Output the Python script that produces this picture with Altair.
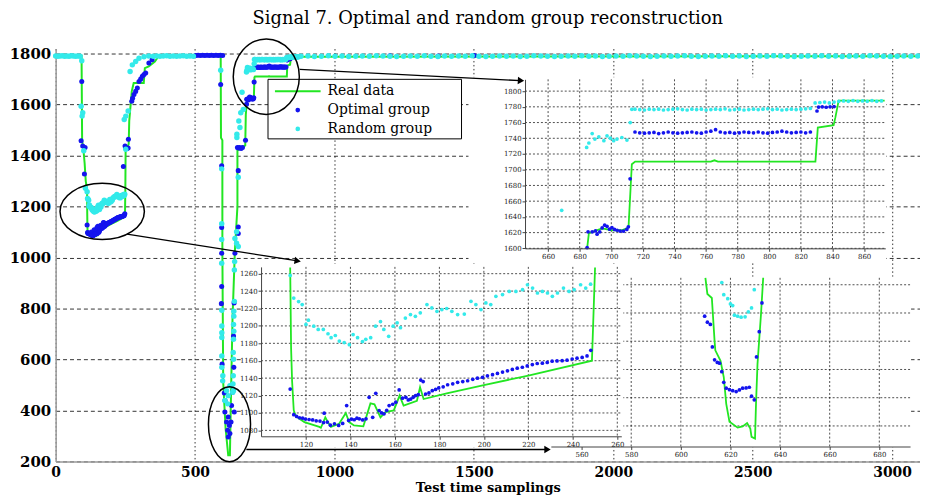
import altair as alt
import pandas as pd

# ---------------- text ----------------
TITLE = "Signal 7. Optimal and random group reconstruction"
X_TITLE = "Test time samplings"
LEGEND_LABELS = ["Real data", "Optimal group", "Random group"]

# ---------------- tick values ----------------
MAIN_X_TICKS = [0, 500, 1000, 1500, 2000, 2500, 3000]
MAIN_Y_TICKS = [200, 400, 600, 800, 1000, 1200, 1400, 1600, 1800]
A_X_TICKS = [660, 680, 700, 720, 740, 760, 780, 800, 820, 840, 860]
A_Y_TICKS = [1600, 1620, 1640, 1660, 1680, 1700, 1720, 1740, 1760, 1780, 1800]
B_X_TICKS = [120, 140, 160, 180, 200, 220, 240, 260]
B_Y_TICKS = [1080, 1100, 1120, 1140, 1160, 1180, 1200, 1220, 1240, 1260]
C_X_TICKS = [560, 580, 600, 620, 640, 660, 680]
C_Y_TICKS = [250, 300, 350, 400, 450, 500]

# ---------------- Real data (green line), (sample, value) ----------------
REAL_FIRST_DIP = [(0, 1792), (93, 1792), (95, 1460), (100, 1420), (104, 1370), (108, 1300),
                  (112.9, 1267), (113.3, 1175), (113.75, 1137), (114.5, 1103), (115.5, 1096),
                  (119.3, 1089.5), (126, 1084), (126.7, 1083), (128.7, 1095), (130.1, 1088.4),
                  (131.2, 1084), (134.9, 1087.6), (137.9, 1100), (139.4, 1089.5), (141.6, 1085.7),
                  (145.8, 1084.6), (149, 1111), (150.8, 1110), (153.5, 1095), (155.7, 1101),
                  (159.5, 1103), (162.1, 1120), (163.9, 1108.5), (169.9, 1114), (171.3, 1129.5),
                  (172.9, 1116), (183.3, 1122.6), (200, 1132), (220, 1143), (248.6, 1160), (250, 1267)]
REAL_RECOVERY = [(251, 1419), (262, 1445), (264, 1536), (269, 1600), (273, 1652), (280, 1685),
                 (316, 1685), (320, 1743), (334, 1750), (356, 1769), (364, 1782), (370, 1792), (592, 1792)]
REAL_DEEP_DIP = [(593, 1470), (598, 1460), (598, 1029), (601, 511), (609.6, 328), (619, 224),
                 (625, 224), (628.7, 445), (634.6, 770), (643, 1029), (652, 1200), (652, 1420),
                 (680, 1440), (682, 1560)]
REAL_STEPS = [(684.7, 1600), (685.8, 1619), (687.9, 1621), (694.2, 1625.3), (700.4, 1623),
              (706.7, 1623), (710.9, 1626.5), (713, 1707), (715.1, 1710.3), (763, 1710.3),
              (765.3, 1712), (767.5, 1710.3), (829.2, 1710.3), (830.7, 1753.6), (840.7, 1756.6),
              (841.8, 1766.2), (843.9, 1788), (873, 1788), (3100, 1790)]

# ---------------- Optimal group (blue points) ----------------
OPT_FIRST_DESCENT = [(93.7, 1691), (91.4, 1458), (97.2, 1438), (105.6, 1432), (103.2, 1328)]
OPT_FIRST_BOTTOM = [(112.9, 1127.5), (114.5, 1098), (115.8, 1096), (117.1, 1094.5), (118.5, 1094),
                    (119.8, 1093), (121.4, 1092.5), (123, 1092), (124.6, 1091), (126.3, 1090.7),
                    (127.9, 1089), (128.2, 1099.8), (129.6, 1089.5), (131, 1086), (132.8, 1087.6),
                    (134.7, 1085.7), (136.5, 1088), (138.3, 1108.5), (139.2, 1091.4), (140.5, 1093),
                    (141.7, 1092.2), (142.9, 1094), (144, 1093.3), (145.5, 1092), (147, 1093.3),
                    (148.4, 1118), (150, 1095), (151.4, 1122.6), (152.9, 1102.8), (154, 1100),
                    (155.1, 1099), (156.3, 1103), (157.4, 1108.5), (159, 1110), (160.4, 1112.4),
                    (161.9, 1126.4), (163.4, 1117), (164.9, 1118), (166, 1115), (167.1, 1116),
                    (168.2, 1118), (169.3, 1120), (170.5, 1121), (171.6, 1137.8), (172.7, 1136),
                    (173.8, 1121.8), (175.3, 1123), (176.8, 1125.6), (178.3, 1127), (179.7, 1128.7),
                    (181.7, 1130), (183.7, 1132.4), (186, 1133.5), (188.2, 1135.2), (190.5, 1136),
                    (192.7, 1137), (195, 1138.6), (197.1, 1140), (199.4, 1141), (201.6, 1142.7),
                    (203.9, 1144), (206.1, 1145.4), (208.4, 1147), (210.6, 1148.4), (212.8, 1150),
                    (215, 1151.5), (217.3, 1152.5), (219.5, 1154), (221.8, 1155.6), (224, 1156.8),
                    (226.3, 1157.2), (228.5, 1158), (230.7, 1159.5), (232.9, 1159.8), (235.2, 1160.1),
                    (237.4, 1160.6), (239.7, 1162), (241.9, 1162.9), (244.2, 1163.8), (246.4, 1165.5),
                    (248.1, 1172)]
OPT_RECOVERY = [(243, 1357), (249, 1438), (252, 1430), (256, 1428), (260, 1430), (261, 1464),
                (273, 1613), (276, 1625), (281, 1640), (287, 1652), (293, 1665), (299, 1691),
                (305, 1700), (311, 1711), (317, 1718), (323, 1724), (334.5, 1763), (346, 1776)]
OPT_TOP = [(503, 1793), (511, 1794), (519, 1793), (527, 1794), (535, 1793), (543, 1794), (551, 1793),
           (559, 1794), (567, 1793), (575, 1794), (583, 1793), (591, 1794), (599, 1793),
           (1199, 1792), (1372, 1791), (1502, 1793)]
OPT_DEEP_DIP = [(592, 1679), (595.5, 1360), (595.5, 1118), (595.5, 1017), (595.5, 886.5), (594.4, 819),
                (597, 581.6), (605, 468.7), (607.4, 438.7), (607, 393.5), (619, 374), (613, 354.6),
                (623, 341), (617, 321.9), (625, 309), (619, 296), (629, 354.6), (631, 419),
                (640.6, 393.5), (634.6, 471.4), (643, 1017), (640, 822), (638, 692), (639, 569),
                (655, 1120), (655, 1094), (655, 1341), (652, 1432), (656, 1430), (660, 1432),
                (665, 1428), (670, 1432), (681, 1460)]
OPT_STEPS_LOW = [(684.7, 1601), (685.3, 1621), (687.9, 1621), (690, 1622.2), (691, 1618), (692.7, 1621),
                 (694.2, 1626), (695.8, 1629.4), (697.3, 1628), (698.9, 1624.4), (700.4, 1626.5),
                 (702, 1624), (703.7, 1623), (705.6, 1622), (707.7, 1622), (709.8, 1624),
                 (710.8, 1627.3), (711.9, 1688.4)]
OPT_BAND_X = [715, 718, 721, 724, 727, 730, 733, 736, 739, 742, 745, 748, 751, 754, 757, 760, 763,
              766, 769, 772, 775, 778, 781, 784, 787, 790, 793, 796, 799, 802, 805, 808, 811, 814,
              817, 820, 823, 826]
OPT_BAND_Y = [1748, 1747, 1746.5, 1747, 1747.5, 1746, 1747, 1748, 1747, 1746.5, 1747, 1747.5, 1748,
              1747, 1746.5, 1748, 1749, 1751, 1748, 1747, 1747.5, 1746.5, 1747, 1748, 1747.5, 1747,
              1748, 1747, 1746.5, 1747.5, 1748, 1749, 1748, 1747, 1747.5, 1748, 1747, 1748]
OPT_STEPS_HIGH = [(830.2, 1774.7), (831.2, 1779.7), (833.5, 1780), (836, 1779.5), (838.5, 1780),
                  (841, 1780.3)]

# ---------------- Random group (cyan points) ----------------
RAND_TOP_LEFT = [(0, 1791), (8, 1790), (16, 1791), (24, 1792), (32, 1790), (40, 1791), (48, 1790),
                 (56, 1792), (64, 1791), (72, 1790), (80, 1791), (88, 1790)]
RAND_FIRST_DESCENT = [(93.7, 1772), (91.4, 1594), (97.2, 1568), (95, 1555), (100.8, 1419), (106.8, 1272)]
RAND_FIRST_BOTTOM = [(112.9, 1258), (114.5, 1232), (116.7, 1228), (118.3, 1224.5), (120, 1201.7),
                     (121.1, 1206.6), (123.5, 1199.7), (125.5, 1196), (127.8, 1196), (129.9, 1191),
                     (131.3, 1186.5), (133.2, 1189), (135, 1182.6), (137.2, 1180.8), (139.5, 1178.5),
                     (141.2, 1190), (143.2, 1186.5), (145.4, 1182), (146.9, 1184.6), (149.1, 1186.5),
                     (151.3, 1199.7), (153.5, 1205), (155, 1196), (157.2, 1188), (159.2, 1199.7),
                     (161, 1203.6), (162.5, 1198), (164.7, 1209), (167, 1213), (169.2, 1211),
                     (171.4, 1215), (174.4, 1224.5), (176.6, 1220.7), (178.9, 1216.8), (181.1, 1218.8),
                     (183.3, 1220), (185.6, 1216.8), (188.2, 1213), (191.2, 1213.6), (194.2, 1228.2),
                     (196.4, 1224.5), (198.7, 1218.8), (200.9, 1226.4), (203.1, 1224.5), (205.4, 1234),
                     (208.4, 1236), (211.4, 1239.6), (214.4, 1239.6), (217.4, 1241.6), (219.6, 1247.3),
                     (221.9, 1243.5), (224.1, 1237.8), (226.3, 1239.6), (228.6, 1237.8), (230.8, 1234),
                     (233.1, 1237.8), (235.8, 1243.5), (238.3, 1239.6), (240.6, 1241.6), (243.5, 1247.3),
                     (245.8, 1243.5), (248, 1248)]
RAND_RECOVERY = [(246, 1542), (251.6, 1555), (260, 1575), (251.6, 1425), (267, 1730), (275, 1756),
                 (287, 1769), (299, 1782), (317, 1788), (334, 1791), (350, 1790)]
RAND_TOP_MID = [(362, 1791), (374, 1790), (386, 1791), (398, 1792), (410, 1790), (422, 1791),
                (434, 1790), (446, 1791), (458, 1792), (470, 1790), (482, 1791), (494, 1790)]
RAND_DEEP_DIP = [(592, 1735), (595.5, 1348), (595.5, 1133), (595.5, 1071), (595.5, 978), (596, 793),
                 (596, 731), (596, 705), (596, 686), (596, 614), (596, 569), (599.6, 536), (599, 516),
                 (613, 477.6), (619, 458), (607, 438.7), (625, 497), (617, 425.8), (642, 984),
                 (641, 951.5), (641, 828), (639, 789), (639, 770), (638, 737), (639, 711), (638, 679),
                 (637, 627), (638, 601), (637, 536), (636, 504), (638, 478), (635, 471), (649, 1101),
                 (643, 1075), (649, 1056), (655, 1043), (655, 1315), (650, 1471), (650, 1484),
                 (661, 1510), (657, 1536), (664, 1568), (673, 1581)]
RAND_STEPS_LOW = [(668.6, 1648.4), (684.4, 1728.4), (685.8, 1734), (687.9, 1746), (689.6, 1739),
                  (692.1, 1741.8), (695.3, 1737), (697.3, 1743.1), (699.4, 1740.2), (701.5, 1737),
                  (703.6, 1739), (706.7, 1741), (709.9, 1737.7), (712, 1760), (713, 1776.8)]
RAND_BAND_X = [715, 718, 721, 724, 727, 730, 733, 736, 739, 742, 745, 748, 751, 754, 757, 760, 763,
               766, 769, 772, 775, 778, 781, 784, 787, 790, 793, 796, 799, 802, 805, 808, 811, 814,
               817, 820, 823, 826]
RAND_BAND_Y = [1777, 1776.5, 1776, 1777, 1776.5, 1777, 1776, 1776.5, 1777, 1777.5, 1776.5, 1776, 1777,
               1776.5, 1777, 1776, 1776.5, 1777, 1776.5, 1777.5, 1776, 1776.5, 1777, 1776, 1776.5, 1777,
               1776.5, 1777, 1777.5, 1776.5, 1777, 1776, 1776.5, 1777, 1776.5, 1777, 1777.5, 1778]
RAND_STEPS_HIGH = [(829, 1785), (832, 1785.5), (835, 1786), (838, 1785), (841, 1786), (844, 1787),
                   (847, 1787.5), (850, 1787), (853, 1788), (856, 1787), (859, 1787.5), (862, 1787),
                   (865, 1788), (868, 1787), (871, 1787.5)]
RAND_TOP_RIGHT_X = [880, 905, 928, 953, 978, 1002, 1027, 1051, 1076, 1100, 1125, 1150, 1174, 1199,
                    1223, 1248, 1272, 1297, 1322, 1346, 1371, 1395, 1420, 1445, 1469, 1494, 1518,
                    1543, 1567, 1592, 1617, 1641, 1666, 1690, 1715, 1740, 1764, 1789, 1813, 1838,
                    1862, 1887, 1912, 1936, 1961, 1985, 2010, 2035, 2059, 2084, 2108, 2133, 2157,
                    2182, 2207, 2231, 2256, 2280, 2305, 2330, 2354, 2379, 2403, 2428, 2452, 2477,
                    2502, 2526, 2551, 2575, 2600, 2625, 2649, 2674, 2698, 2723, 2747, 2772, 2797,
                    2821, 2846, 2870, 2895, 2920, 2944, 2969, 2993, 3018, 3042, 3067, 3092]
RAND_TOP_RIGHT_Y = [1790, 1791, 1789, 1790, 1792, 1790, 1791, 1789, 1790, 1791, 1790, 1792, 1791, 1790,
                    1789, 1790, 1791, 1790, 1792, 1790, 1789, 1791, 1790, 1791, 1790, 1792, 1790, 1789,
                    1790, 1791, 1790, 1791, 1789, 1790, 1792, 1791, 1790, 1789, 1790, 1791, 1790, 1792,
                    1790, 1791, 1789, 1790, 1791, 1790, 1792, 1791, 1790, 1789, 1790, 1791, 1790, 1791,
                    1792, 1790, 1789, 1790, 1791, 1790, 1792, 1790, 1791, 1789, 1790, 1791, 1790, 1792,
                    1791, 1790, 1789, 1790, 1791, 1790, 1792, 1790, 1791, 1789, 1790, 1791, 1790, 1792,
                    1791, 1790, 1789, 1790, 1791, 1790, 1791]

# ---------------- inset C (its own zoom of the deep dip) ----------------
C_REAL = [(609.9, 512.3), (610.7, 483.7), (612.5, 476.6), (613.6, 400.4), (613.9, 384), (616, 365.2),
          (617.3, 336.6), (618.3, 289.2), (619.6, 257.6), (622.9, 247), (624.9, 249.3), (626.7, 255.3),
          (628, 245.3), (628.5, 230.7), (629.9, 227.7), (630.3, 289.2), (630.9, 359.5),
          (632.3, 447.3), (633.2, 512.3)]
C_OPT = [(609.6, 444.3), (610.7, 433.8), (611.9, 429.7), (612.7, 389.9), (613.6, 367), (614.7, 362.4),
         (615.6, 361.2), (616.5, 346), (617.3, 327.3), (618.3, 316.8), (619.6, 314.3), (620.9, 312.5),
         (622.3, 310.8), (623.6, 313.8), (624.9, 316.8), (626.3, 317.3), (627.6, 318.5),
         (628.5, 302.7), (629.6, 296.2), (630.5, 372.3), (631.6, 416.9), (632.7, 467.8)]
C_RAND = [(616.5, 504), (617.3, 482.4), (618.9, 475.4), (620, 466.1), (620.9, 463.1), (621.6, 446.1),
          (622.9, 444.3), (624.3, 442.6), (625.9, 443.3), (627.2, 452), (628.5, 459), (629.6, 491.2)]

# ---------------- styling / layout ----------------
FONT = "DejaVu Serif"
GREEN, BLUE, CYAN = "#22e622", "#1414ee", "#33eaea"
W, H = 871, 416
MAIN_XD, MAIN_YD = [0, 3100], [200, 1820]


def frame(pairs):
    return pd.DataFrame({"x": [p[0] for p in pairs], "y": [p[1] for p in pairs]})


real_df = frame(REAL_FIRST_DIP + REAL_RECOVERY + REAL_DEEP_DIP + REAL_STEPS)
real_df["i"] = range(len(real_df))
opt_df = frame(OPT_FIRST_DESCENT + OPT_FIRST_BOTTOM + OPT_RECOVERY + OPT_TOP + OPT_DEEP_DIP
               + OPT_STEPS_LOW + list(zip(OPT_BAND_X, OPT_BAND_Y)) + OPT_STEPS_HIGH)
rand_df = frame(RAND_TOP_LEFT + RAND_FIRST_DESCENT + RAND_FIRST_BOTTOM + RAND_RECOVERY + RAND_TOP_MID
                + RAND_DEEP_DIP + RAND_STEPS_LOW + list(zip(RAND_BAND_X, RAND_BAND_Y))
                + RAND_STEPS_HIGH + list(zip(RAND_TOP_RIGHT_X, RAND_TOP_RIGHT_Y)))
c_real = frame(C_REAL)
c_real["i"] = range(len(c_real))
c_opt, c_rand = frame(C_OPT), frame(C_RAND)
ONE = pd.DataFrame({"k": [0]})


def inside(df, xd, yd):
    return df[(df.x >= xd[0]) & (df.x <= xd[1]) & (df.y >= yd[0]) & (df.y <= yd[1])]


# ---------------- main panel ----------------
mxs = alt.Scale(domain=MAIN_XD, nice=False, zero=False)
mys = alt.Scale(domain=MAIN_YD, nice=False, zero=False)
main_common = dict(grid=True, gridColor="#000", gridWidth=0.8, gridOpacity=1, domainColor="#999",
                   domainWidth=1.5, ticks=False, labelFont=FONT, labelFontWeight="bold",
                   labelColor="#000", labelFlush=False, labelOverlap=False, format="d")
mxa = alt.Axis(orient="bottom", values=MAIN_X_TICKS, gridDash=[1.5, 2.5], labelPadding=4,
               labelFontSize=14, title=X_TITLE, titleFont=FONT, titleFontSize=13,
               titleFontWeight="bold", titleColor="#000", titlePadding=2, **main_common)
mya = alt.Axis(orient="left", values=MAIN_Y_TICKS, gridDash=[4, 3], labelPadding=5,
               labelFontSize=15, title="", **main_common)
MX = alt.X("x:Q", scale=mxs, axis=mxa)
MY = alt.Y("y:Q", scale=mys, axis=mya)

main_layer = alt.layer(
    alt.Chart(real_df).mark_line(color=GREEN, strokeWidth=2).encode(x=MX, y=MY, order="i:Q"),
    alt.Chart(opt_df).mark_point(filled=True, size=26, color=BLUE, opacity=1).encode(x=MX, y=MY),
    alt.Chart(rand_df).mark_point(filled=True, size=30, color=CYAN, opacity=1).encode(x=MX, y=MY),
)


# ---------------- inset panels ----------------
def panel(xd, yd, xr, yr, bg, xt, yt, real, opt, rand, show_y=True, psize=14):
    xs = alt.Scale(domain=xd, range=xr, nice=False, zero=False)
    ys = alt.Scale(domain=yd, range=yr, nice=False, zero=False)
    common = dict(zindex=1, grid=False, domainColor="#444", domainWidth=1, tickColor="#444",
                  tickSize=3, labelFont=FONT, labelFontSize=7, labelColor="#222", labelFlush=False,
                  labelOverlap=False, format="d", title="", labelPadding=1)
    xa = alt.Axis(orient="bottom", offset=-(H - yr[0]), values=xt, **common)
    ya = alt.Axis(orient="left", offset=-xr[0], values=yt, **common) if show_y else None
    X = alt.X("x:Q", scale=xs, axis=xa)
    Y = alt.Y("y:Q", scale=ys, axis=ya)
    grid_style = dict(color="#000", strokeWidth=0.7, strokeDash=[2, 2])
    return alt.layer(
        alt.Chart(ONE).mark_rect(fill="white").encode(
            x=alt.value(bg[0]), x2=alt.value(bg[1]), y=alt.value(bg[2]), y2=alt.value(bg[3])),
        alt.Chart(pd.DataFrame({"x": xt})).mark_rule(**grid_style).encode(
            x=X, y=alt.value(yr[1]), y2=alt.value(yr[0])),
        alt.Chart(pd.DataFrame({"y": yt})).mark_rule(**grid_style).encode(
            y=Y, x=alt.value(xr[0]), x2=alt.value(xr[1])),
        alt.Chart(inside(real, xd, yd)).mark_line(color=GREEN, strokeWidth=1.8).encode(
            x=X, y=Y, order="i:Q"),
        alt.Chart(inside(opt, xd, yd)).mark_point(filled=True, size=psize, color=BLUE,
                                                  opacity=1).encode(x=X, y=Y),
        alt.Chart(inside(rand, xd, yd)).mark_point(filled=True, size=psize, color=CYAN,
                                                   opacity=1).encode(x=X, y=Y),
    )


c_panel = panel([547.6, 692.4], [213.6, 512.3], [499, 861], [401, 231], (484, 862, 230, 402),
                C_X_TICKS, C_Y_TICKS, c_real, c_opt, c_rand, show_y=False, psize=14)
b_panel = panel([99.8, 261.8], [1073.2, 1267.8], [207, 570], [390.7, 220], (187, 572, 217, 402),
                B_X_TICKS, B_Y_TICKS, real_df, opt_df, rand_df, psize=14)
a_panel = panel([645.4, 873.4], [1600, 1815], [473, 836], [201.3, 31], (416, 837, 29, 215),
                A_X_TICKS, A_Y_TICKS, real_df, opt_df, rand_df, psize=14)


# ---------------- annotations (same mapping as main) ----------------
def ellipse_path(rx, ry):
    k = 0.5523
    a, b = rx * k, ry * k
    return (f"M {rx:.3f} 0 C {rx:.3f} {b:.3f} {a:.3f} {ry:.3f} 0 {ry:.3f} "
            f"C {-a:.3f} {ry:.3f} {-rx:.3f} {b:.3f} {-rx:.3f} 0 "
            f"C {-rx:.3f} {-b:.3f} {-a:.3f} {-ry:.3f} 0 {-ry:.3f} "
            f"C {a:.3f} {-ry:.3f} {rx:.3f} {-b:.3f} {rx:.3f} 0 Z")


axs = alt.Scale(domain=MAIN_XD, nice=False, zero=False)
ays = alt.Scale(domain=MAIN_YD, nice=False, zero=False)
AX = alt.X("x:Q", scale=axs, axis=None)
AY = alt.Y("y:Q", scale=ays, axis=None)

ellipses = [((167, 1181), 1.0, 0.666, 7225), ((755.5, 1709.7), 0.876, 1.0, 5776),
            ((623.5, 346), 0.561, 1.0, 5715)]
ellipse_layers = [
    alt.Chart(pd.DataFrame({"x": [c[0]], "y": [c[1]]})).mark_point(
        shape=ellipse_path(rx, ry), size=s, filled=False, color="#000", strokeWidth=1.5,
        opacity=1).encode(x=AX, y=AY)
    for c, rx, ry, s in ellipses
]
arrows = pd.DataFrame({"x": [256, 875.4, 684], "y": [1092, 1738, 246.7],
                       "x2": [868, 1669, 1764], "y2": [986.6, 1694, 246.7],
                       "ang": [8.75, 2.9, 0]})
arrow_lines = alt.Chart(arrows).mark_rule(color="#000", strokeWidth=1.3).encode(
    x=AX, y=AY, x2="x2:Q", y2="y2:Q")
arrow_heads = alt.Chart(arrows).mark_point(shape="triangle-right", filled=True, size=55,
                                           color="#000", opacity=1).encode(
    x=alt.X("x2:Q", scale=axs, axis=None), y=alt.Y("y2:Q", scale=ays, axis=None),
    angle=alt.Angle("ang:Q", scale=None))

legend_box = alt.Chart(ONE).mark_rect(fill="white", stroke="#000", strokeWidth=1).encode(
    x=alt.value(214), x2=alt.value(409), y=alt.value(31), y2=alt.value(91))
legend_line = alt.Chart(ONE).mark_rule(color=GREEN, strokeWidth=2).encode(
    x=alt.value(221), x2=alt.value(267), y=alt.value(43))
legend_dots = [
    alt.Chart(ONE).mark_point(filled=True, size=22, color=col, opacity=1).encode(
        x=alt.value(244), y=alt.value(yy))
    for col, yy in [(BLUE, 62), (CYAN, 81)]
]
legend_texts = [
    alt.Chart(ONE).mark_text(align="left", baseline="middle", font=FONT, fontSize=14,
                             color="#000").encode(x=alt.value(274), y=alt.value(yy),
                                                  text=alt.value(lbl))
    for lbl, yy in zip(LEGEND_LABELS, [43, 62, 81])
]

annot_layer = alt.layer(legend_box, legend_line, *legend_dots, *legend_texts, *ellipse_layers,
                        arrow_lines, arrow_heads)

chart = alt.layer(main_layer, c_panel, b_panel, a_panel, annot_layer).resolve_scale(
    x="independent", y="independent"
).properties(
    width=W, height=H,
    title=alt.TitleParams(text=TITLE, font=FONT, fontSize=18, fontWeight="normal", color="#000",
                          anchor="middle", offset=8),
    autosize=alt.AutoSizeParams(type="none"),
    padding={"left": 48, "top": 39, "right": 0, "bottom": 34},
).configure_view(stroke=None)

chart.save("out.html", embed_options={"renderer": "svg", "actions": False})
